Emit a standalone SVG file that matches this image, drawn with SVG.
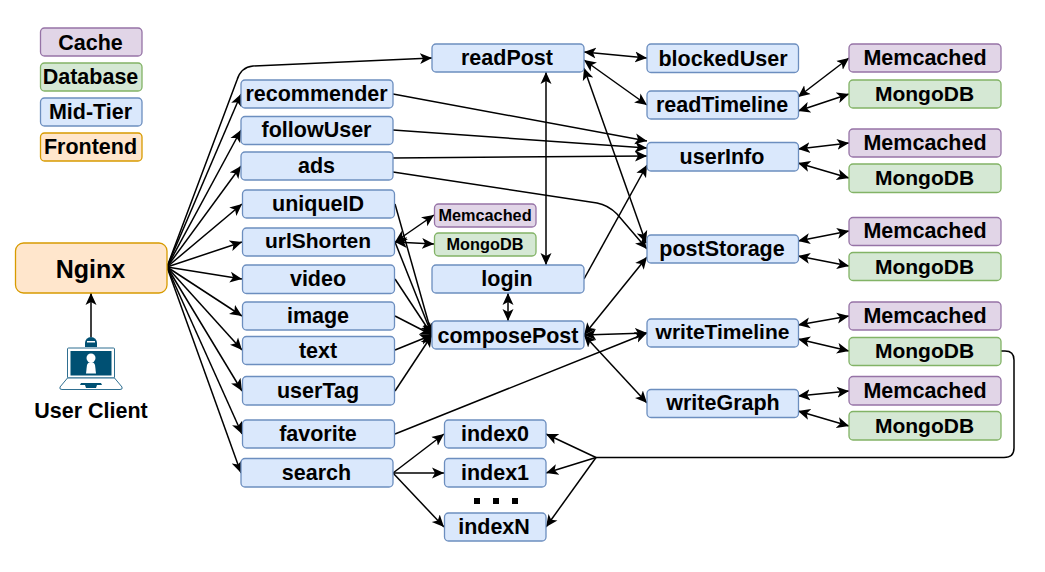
<svg xmlns="http://www.w3.org/2000/svg" width="1045" height="572" viewBox="0 0 1045 572">
<style>
text{font-family:"Liberation Sans",Arial,sans-serif;font-weight:700;font-size:21.5px;fill:#000;text-anchor:middle}
rect{stroke-width:1.3}
.mid{fill:#dae8fc;stroke:#6c8ebf}
.db{fill:#d5e8d4;stroke:#82b366}
.ca{fill:#e1d5e7;stroke:#9673a6}
.fe{fill:#ffe6cc;stroke:#d79b00}
.s{font-size:16.3px}
.n{font-size:25px}
.t{font-size:21px}
#edges path{fill:none;stroke:#000;stroke-width:1.5}
.a{marker-end:url(#h)}
.b{marker-start:url(#h);marker-end:url(#h)}
.ic{fill:#005073}
.il{fill:#fff;stroke:#2f6f91;stroke-width:1}
</style>
<defs>
<marker id="h" markerUnits="userSpaceOnUse" markerWidth="14" markerHeight="12" refX="12" refY="5.5" orient="auto-start-reverse" viewBox="0 0 14 11">
<path d="M0 0L12 5.5L0 11L3 5.5Z" fill="#000"/>
</marker>
</defs>
<g id="edges">
<path class="a" d="M167 267L237 80Q241 67 253 66L432 58"/>
<path class="a" d="M167 267L241 94"/>
<path class="a" d="M167 267L241 130"/>
<path class="a" d="M167 267L241 166"/>
<path class="a" d="M167 267L242 204"/>
<path class="a" d="M167 267L242 242"/>
<path class="a" d="M167 267L242 279"/>
<path class="a" d="M167 267L242 316"/>
<path class="a" d="M167 267L242 350"/>
<path class="a" d="M167 267L242 391"/>
<path class="a" d="M167 267L242 434"/>
<path class="a" d="M167 267L241 473"/>
<path class="a" d="M91 337V293"/>
<path class="a" d="M395 204L432 335"/>
<path class="a" d="M395 242L432 335"/>
<path class="a" d="M395 279L432 335"/>
<path class="a" d="M395 316L432 335"/>
<path class="a" d="M395 350L432 335"/>
<path class="a" d="M395 391L432 335"/>
<path class="b" d="M395 242L434 215"/>
<path class="b" d="M395 242L434 244"/>
<path class="b" d="M508 293V321"/>
<path class="b" d="M546 72V265"/>
<path class="a" d="M584 279L647 165"/>
<path class="a" d="M393 94L647 141"/>
<path class="a" d="M393 130L647 148"/>
<path class="a" d="M393 158L647 156"/>
<path class="a" d="M393 172L597 203Q608 205 617 214L647 249"/>
<path class="b" d="M584 68L646 243"/>
<path class="b" d="M584 335L647 257"/>
<path class="b" d="M584 335L647 333"/>
<path class="b" d="M584 335L647 403"/>
<path class="a" d="M395 434L647 333"/>
<path class="b" d="M584 52L647 58"/>
<path class="b" d="M584 60L647 105"/>
<path class="b" d="M798 97L849 58"/>
<path class="b" d="M798 111L849 94"/>
<path class="b" d="M798 149L849 143"/>
<path class="b" d="M798 163L849 178"/>
<path class="b" d="M798 241L849 231"/>
<path class="b" d="M798 256L849 266"/>
<path class="b" d="M798 325L849 316"/>
<path class="b" d="M798 339L849 351"/>
<path class="b" d="M798 396L849 391"/>
<path class="b" d="M798 411L849 426"/>
<path d="M1001 351H1005Q1014 351 1014 360V448Q1014 457.500 1004 457.500H596"/>
<path class="a" d="M596 457.500L546 434"/>
<path class="a" d="M596 457.500L546 473"/>
<path class="a" d="M596 457.500L546 527"/>
<path class="a" d="M393 473L444 434"/>
<path class="a" d="M393 473H444"/>
<path class="a" d="M393 473L444 527"/>
</g>
<g id="legend-cache"><rect class="ca" x="40.500" y="28" width="101.500" height="28" rx="4"/><text x="90.500" y="49.500">Cache</text></g>
<g id="legend-database"><rect class="db" x="40.500" y="63" width="101.500" height="28" rx="4"/><text x="90.500" y="84">Database</text></g>
<g id="legend-midtier"><rect class="mid" x="40.500" y="98" width="101.500" height="28" rx="4"/><text x="90.500" y="118.500">Mid-Tier</text></g>
<g id="legend-frontend"><rect class="fe" x="40.500" y="133" width="101.500" height="28" rx="4"/><text x="90.500" y="154">Frontend</text></g>
<g id="nginx"><rect class="fe" x="15.500" y="243" width="151.500" height="50" rx="8"/><text class="n" x="90.500" y="278">Nginx</text></g>
<g id="user-client">
<path class="ic" d="M85 347V343A6 6 0 0 1 97 343V347Z"/><rect x="87" y="341" width="8" height="1.500" fill="#fff" style="stroke:none"/>
<rect class="il" x="67.500" y="348" width="47" height="30" rx="1"/>
<rect class="ic" x="70.500" y="351" width="41" height="24.500" style="stroke:none"/>
<circle cx="91" cy="358" r="4.500" fill="#fff"/>
<path d="M86 373.500L87 365Q88 362 91 362Q94 362 95 365L96 373.500Z" fill="#fff"/>
<path class="il" d="M67.500 378L60 387Q59 389.500 62 389.500H120Q123 389.500 122 387L114.500 378Z"/>
<path class="ic" d="M81 383H101L102 385H97L96 388H86L85 385H80Z"/>
<text x="91" y="418">User Client</text>
</g>
<g id="recommender"><rect class="mid" x="241" y="80" width="152" height="28" rx="4"/><text x="316.500" y="101">recommender</text></g>
<g id="followUser"><rect class="mid" x="241" y="116.500" width="152" height="28" rx="4"/><text x="316.500" y="137">followUser</text></g>
<g id="ads"><rect class="mid" x="241" y="152" width="152" height="28" rx="4"/><text x="316.500" y="173">ads</text></g>
<g id="uniqueID"><rect class="mid" x="242.500" y="190" width="152" height="28" rx="4"/><text x="318" y="211">uniqueID</text></g>
<g id="urlShorten"><rect class="mid" x="242.500" y="228" width="152" height="28" rx="4"/><text class="t" x="318" y="248">urlShorten</text></g>
<g id="video"><rect class="mid" x="242.500" y="265" width="152" height="28.500" rx="4"/><text x="318" y="286">video</text></g>
<g id="image"><rect class="mid" x="242.500" y="302" width="152" height="28" rx="4"/><text x="318" y="323">image</text></g>
<g id="text"><rect class="mid" x="242.500" y="336.500" width="152" height="28" rx="4"/><text x="318" y="358">text</text></g>
<g id="userTag"><rect class="mid" x="242.500" y="376.500" width="152" height="28.500" rx="4"/><text x="318" y="398">userTag</text></g>
<g id="favorite"><rect class="mid" x="242.500" y="420" width="152" height="28" rx="4"/><text x="318" y="441">favorite</text></g>
<g id="search"><rect class="mid" x="241" y="458.500" width="152" height="28.500" rx="4"/><text x="316.500" y="480">search</text></g>
<g id="readPost"><rect class="mid" x="432" y="44" width="152" height="28" rx="4"/><text x="507" y="65">readPost</text></g>
<g id="login"><rect class="mid" x="432" y="265" width="152" height="28" rx="4"/><text x="507" y="286">login</text></g>
<g id="composePost"><rect class="mid" x="432" y="321" width="152" height="28" rx="4"/><text x="508" y="342.500">composePost</text></g>
<g id="url-memcached"><rect class="ca" x="434.500" y="204" width="101.500" height="23" rx="4"/><text class="s" x="485" y="221">Memcached</text></g>
<g id="url-mongodb"><rect class="db" x="434.500" y="233" width="101.500" height="23" rx="4"/><text class="s" x="485" y="250">MongoDB</text></g>
<g id="index0"><rect class="mid" x="444.500" y="420" width="101.500" height="28" rx="4"/><text x="495" y="441">index0</text></g>
<g id="index1"><rect class="mid" x="444.500" y="458.500" width="101.500" height="28.500" rx="4"/><text x="495" y="480">index1</text></g>
<g id="indexN"><rect class="mid" x="444.500" y="513" width="101.500" height="28" rx="4"/><text x="494" y="534">indexN</text></g>
<g id="index-dots"><rect x="474" y="498" width="6" height="6"/><rect x="493" y="498" width="6" height="6"/><rect x="512" y="498" width="6" height="6"/></g>
<g id="blockedUser"><rect class="mid" x="647" y="44" width="151.500" height="28.500" rx="4"/><text x="723" y="65.500">blockedUser</text></g>
<g id="readTimeline"><rect class="mid" x="647" y="91" width="151.500" height="28" rx="4"/><text x="722" y="112">readTimeline</text></g>
<g id="userInfo"><rect class="mid" x="647" y="142.500" width="151.500" height="28.500" rx="4"/><text x="722" y="164">userInfo</text></g>
<g id="postStorage"><rect class="mid" x="647" y="235" width="151.500" height="28" rx="4"/><text x="722" y="256">postStorage</text></g>
<g id="writeTimeline"><rect class="mid" x="647" y="319" width="151.500" height="28" rx="4"/><text class="t" x="722.500" y="339">writeTimeline</text></g>
<g id="writeGraph"><rect class="mid" x="647" y="389.500" width="151.500" height="28" rx="4"/><text x="723" y="410">writeGraph</text></g>
<g id="m1"><rect class="ca" x="849" y="44" width="152" height="28" rx="4"/><text x="925" y="65">Memcached</text></g>
<g id="d1"><rect class="db" x="849" y="80" width="152" height="28" rx="4"/><text class="t" x="924.500" y="101">MongoDB</text></g>
<g id="m2"><rect class="ca" x="849" y="129" width="152" height="28" rx="4"/><text x="925" y="150">Memcached</text></g>
<g id="d2"><rect class="db" x="849" y="164" width="152" height="28.500" rx="4"/><text class="t" x="924.500" y="185">MongoDB</text></g>
<g id="m3"><rect class="ca" x="849" y="217.500" width="152" height="28" rx="4"/><text x="925" y="238">Memcached</text></g>
<g id="d3"><rect class="db" x="849" y="252.500" width="152" height="28" rx="4"/><text class="t" x="924.500" y="273.500">MongoDB</text></g>
<g id="m4"><rect class="ca" x="849" y="302" width="152" height="28" rx="4"/><text x="925" y="323">Memcached</text></g>
<g id="d4"><rect class="db" x="849" y="337.500" width="152" height="28" rx="4"/><text class="t" x="924.500" y="358">MongoDB</text></g>
<g id="m5"><rect class="ca" x="849" y="376.500" width="152" height="28.500" rx="4"/><text x="925" y="398">Memcached</text></g>
<g id="d5"><rect class="db" x="849" y="411.500" width="152" height="28.500" rx="4"/><text class="t" x="924.500" y="433">MongoDB</text></g>
</svg>
